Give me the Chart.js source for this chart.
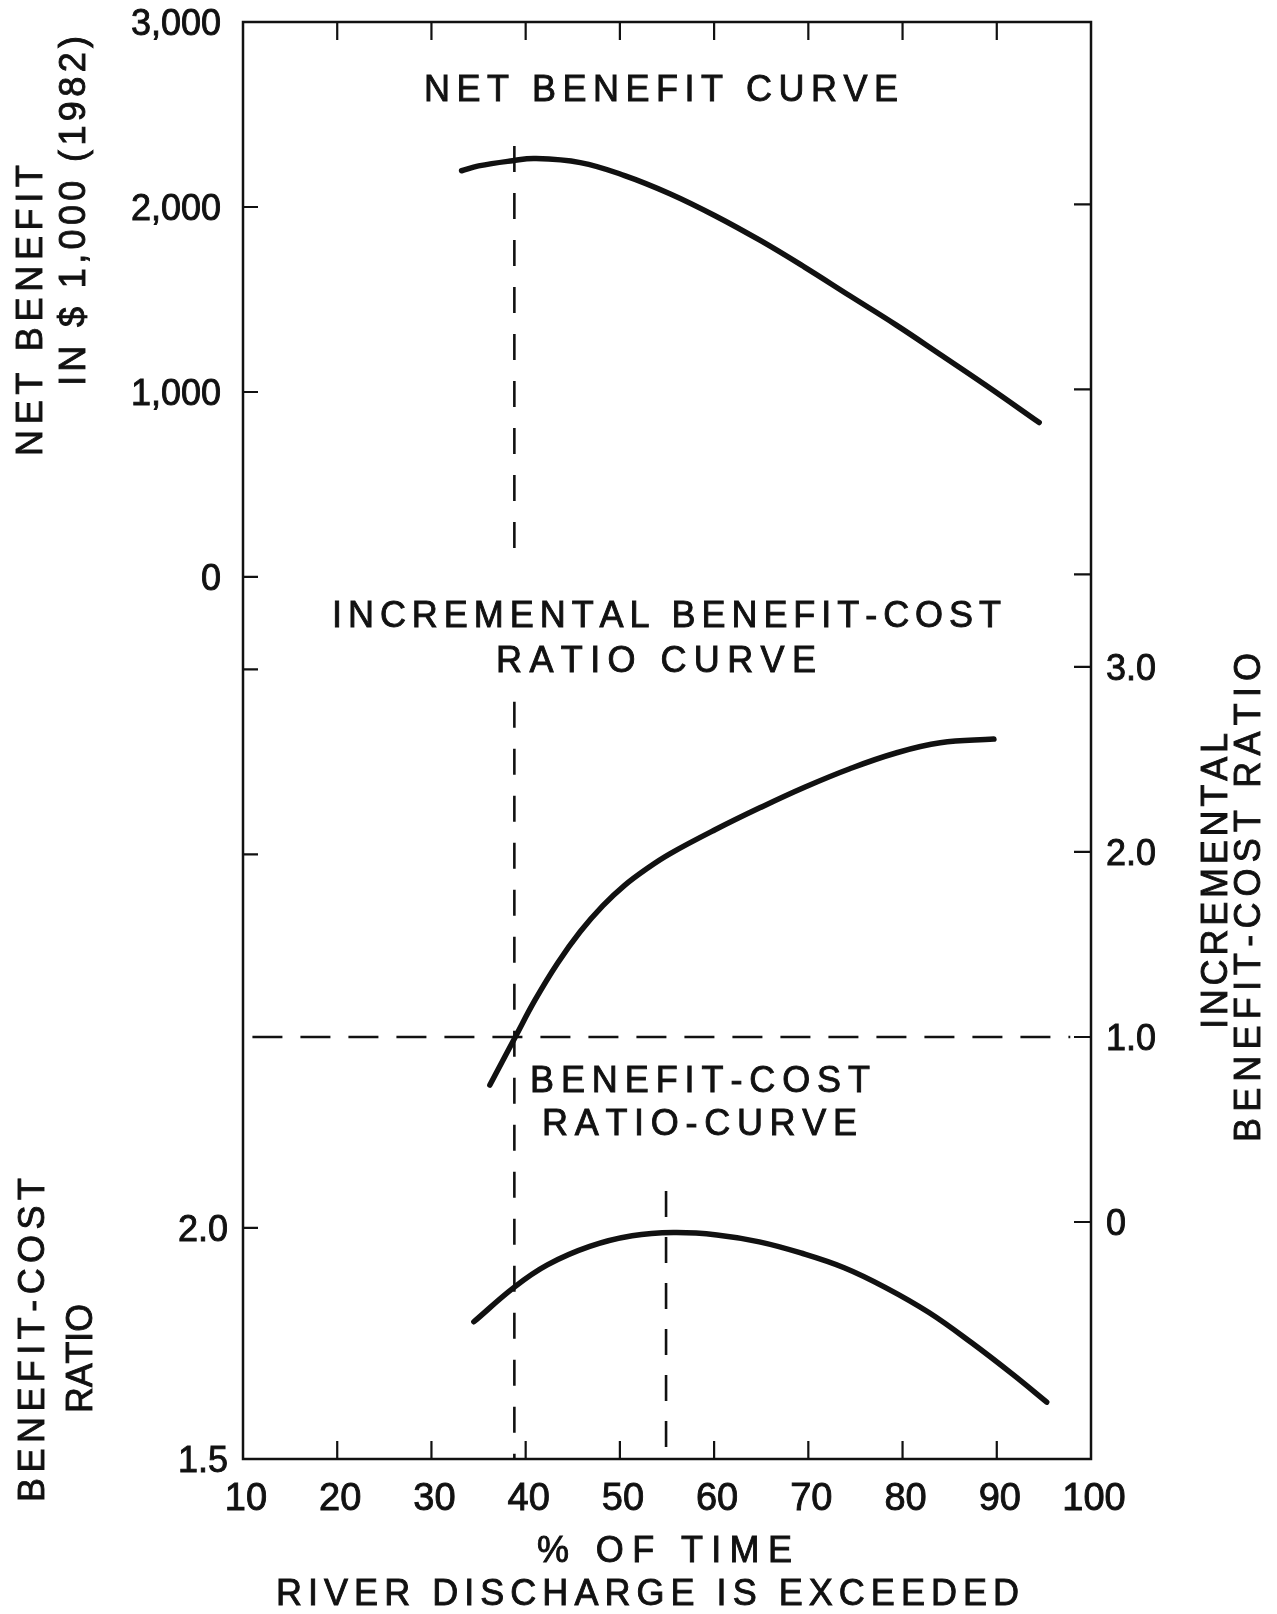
<!DOCTYPE html>
<html>
<head>
<meta charset="utf-8">
<script src="https://cdn.jsdelivr.net/npm/chart.js@4.4.1/dist/chart.umd.min.js"></script>
<style>
  html, body { margin: 0; padding: 0; background: #fff; }
  canvas { display: block; }
</style>
</head>
<body>
<canvas id="myChart" width="1277" height="1614"></canvas>
<script>
// % of time river discharge is exceeded
const xTicks = [10, 20, 30, 40, 50, 60, 70, 80, 90, 100];

// net benefit curve, $1,000 (1982)
const netX = [33.2, 35, 38.6, 41, 45.8, 50.5, 55.3, 60.1, 64.9, 69.6, 74.4, 79.3, 84.0, 88.8, 94.5];
const netY = [2196, 2222, 2250, 2262, 2240, 2170, 2072, 1953, 1819, 1675, 1520, 1363, 1203, 1038, 835];

// incremental benefit-cost ratio curve
const incX = [36.2, 38.9, 41.0, 43.4, 45.8, 48.2, 50.5, 53.0, 55.3, 60.1, 64.9, 69.6, 74.4, 79.3, 84.0, 89.7];
const incY = [0.74, 1.0, 1.20, 1.40, 1.57, 1.71, 1.82, 1.915, 1.99, 2.12, 2.24, 2.35, 2.45, 2.535, 2.59, 2.61];

// benefit-cost ratio curve
const bcX = [34.5, 38.8, 42.3, 46.8, 51.3, 55.7, 60.3, 64.8, 69.2, 73.8, 78.2, 82.8, 87.3, 91.7, 95.3];
const bcY = [1.797, 1.872, 1.920, 1.960, 1.983, 1.99, 1.985, 1.970, 1.946, 1.914, 1.871, 1.817, 1.752, 1.683, 1.623];

// dashed guide lines
const optX = [38.8, 38.8, 38.8, 38.8, 38.8];
const optNet = [2330, 70, null, -675, -4768];
const unityX = [11, 97.8];
const unityY = [1, 1];
const peakX = [54.9, 54.9];
const peakBC = [2.08, 1.52];

// axis ticks
const netTicks = [0, 1000, 2000, 3000];
const netTickLabels = ['0', '1,000', '2,000', '3,000'];
const netMinorTicks = [-500, -1500];
const incTicks = [0, 1, 2, 3];
const incTickLabels = ['0', '1.0', '2.0', '3.0'];
const incMinorTicks = [3.5, 4.5, 5.5];
const bcTicks = [1.5, 2.0];
const bcTickLabels = ['1.5', '2.0'];

const FONT = '"Liberation Sans", Arial, sans-serif';
const INK = '#111';

function pts(xs, ys) {
	return xs.map((x, i) => ({x: x, y: ys[i]}));
}

// draw a string with letter spacing so it fills x0..x1, baseline at 0
function spaced(ctx, str, x0, x1, size) {
	ctx.font = size + 'px ' + FONT;
	let chars = [...str];
	let widths = chars.map(c => ctx.measureText(c).width);
	let natural = widths.reduce((s, w) => s + w, 0);
	let gap = (x1 - x0 - natural) / (chars.length - 1);
	let sx = 1;
	if (gap < 0) { sx = (x1 - x0) / natural; gap = 0; }
	let x = x0;
	chars.forEach((c, i) => {
		ctx.save();
		ctx.translate(x, 0);
		ctx.scale(sx, 1);
		ctx.fillText(c, 0, 0);
		ctx.strokeText(c, 0, 0);
		ctx.restore();
		x += widths[i] * sx + gap;
	});
}

function hText(ctx, str, x0, x1, cy, size) {
	ctx.save();
	ctx.translate(0, cy + size * 0.36);
	spaced(ctx, str, x0, x1, size);
	ctx.restore();
}

function vText(ctx, str, cx, yTop, yBottom, size) {
	ctx.save();
	ctx.translate(cx, (yTop + yBottom) / 2);
	ctx.rotate(-Math.PI / 2);
	ctx.translate(0, size * 0.36);
	let len = yBottom - yTop;
	spaced(ctx, str, -len / 2, len / 2, size);
	ctx.restore();
}

function label(ctx, str, x, y) {
	ctx.fillText(str, x, y);
	ctx.strokeText(str, x, y);
}

const frame = {
	id: 'frame',
	afterDatasetsDraw(chart) {
		const ctx = chart.ctx;
		const a = chart.chartArea;
		const sx = chart.scales.x, sNet = chart.scales.yNet, sInc = chart.scales.yInc, sBC = chart.scales.yBC;
		ctx.save();
		ctx.strokeStyle = INK;
		ctx.fillStyle = INK;
		ctx.lineWidth = 2.5;
		ctx.strokeRect(a.left, a.top, a.right - a.left, a.bottom - a.top);

		ctx.lineWidth = 2.2;
		ctx.beginPath();
		xTicks.slice(1, -1).forEach(v => {
			let px = sx.getPixelForValue(v);
			ctx.moveTo(px, a.top); ctx.lineTo(px, a.top + 18);
			ctx.moveTo(px, a.bottom); ctx.lineTo(px, a.bottom - 18);
		});
		netTicks.concat(netMinorTicks).forEach(v => {
			let py = sNet.getPixelForValue(v);
			if (py > a.top + 2) { ctx.moveTo(a.left, py); ctx.lineTo(a.left + 15, py); }
		});
		bcTicks.forEach(v => {
			let py = sBC.getPixelForValue(v);
			if (py < a.bottom - 2) { ctx.moveTo(a.left, py); ctx.lineTo(a.left + 15, py); }
		});
		incTicks.concat(incMinorTicks).forEach(v => {
			let py = sInc.getPixelForValue(v);
			ctx.moveTo(a.right, py); ctx.lineTo(a.right - 17, py);
		});
		ctx.stroke();

		// tick labels
		ctx.lineWidth = 0.9;
		ctx.font = '36px ' + FONT;
		ctx.textBaseline = 'alphabetic';
		ctx.textAlign = 'right';
		netTicks.forEach((v, i) => {
			label(ctx, netTickLabels[i], a.left - 22, sNet.getPixelForValue(v) + 13);
		});
		bcTicks.forEach((v, i) => {
			label(ctx, bcTickLabels[i], a.left - 15, sBC.getPixelForValue(v) + 13);
		});
		ctx.textAlign = 'left';
		incTicks.forEach((v, i) => {
			label(ctx, incTickLabels[i], a.right + 15, sInc.getPixelForValue(v) + 13);
		});
		ctx.font = '38px ' + FONT;
		ctx.textAlign = 'center';
		xTicks.forEach(v => {
			label(ctx, String(v), sx.getPixelForValue(v) + 3, a.bottom + 51);
		});
		ctx.textAlign = 'left';

		// curve titles
		hText(ctx, 'NET BENEFIT CURVE', 424, 898, 88, 36);
		hText(ctx, 'INCREMENTAL BENEFIT-COST', 332, 1001, 614, 36);
		hText(ctx, 'RATIO CURVE', 496, 816, 659, 36);
		hText(ctx, 'BENEFIT-COST', 530, 870, 1079, 36);
		hText(ctx, 'RATIO-CURVE', 542, 857, 1122, 36);

		// axis titles
		hText(ctx, '% OF TIME', 537, 792, 1549, 36);
		hText(ctx, 'RIVER DISCHARGE IS EXCEEDED', 276, 1019, 1592, 36);
		vText(ctx, 'NET BENEFIT', 29, 165, 456, 36);
		vText(ctx, 'IN $ 1,000 (1982)', 72, 36, 386, 36);
		vText(ctx, 'BENEFIT-COST', 31, 1178, 1502, 36);
		vText(ctx, 'RATIO', 79, 1304, 1413, 36);
		vText(ctx, 'INCREMENTAL', 1214, 733, 1029, 36);
		vText(ctx, 'BENEFIT-COST RATIO', 1247, 653, 1142, 36);
		ctx.restore();
	}
};

const whiteBg = {
	id: 'whiteBg',
	beforeDraw(chart) {
		const ctx = chart.ctx;
		ctx.save();
		ctx.fillStyle = '#fff';
		ctx.fillRect(0, 0, chart.width, chart.height);
		ctx.restore();
	}
};

const curve = {
	borderColor: INK,
	borderWidth: 5.5,
	pointRadius: 0,
	fill: false,
	tension: 0.4,
	borderCapStyle: 'round'
};
const dashed = {
	borderColor: INK,
	borderWidth: 2.6,
	pointRadius: 0,
	fill: false,
	tension: 0,
	spanGaps: false
};

const data = {
	datasets: [
		Object.assign({label: 'Net benefit', data: pts(netX, netY), yAxisID: 'yNet'}, curve),
		Object.assign({label: 'Incremental benefit-cost ratio', data: pts(incX, incY), yAxisID: 'yInc'}, curve),
		Object.assign({label: 'Benefit-cost ratio', data: pts(bcX, bcY), yAxisID: 'yBC'}, curve),
		Object.assign({label: 'opt', data: pts(optX, optNet), yAxisID: 'yNet', borderDash: [26, 21]}, dashed),
		Object.assign({label: 'unity', data: pts(unityX, unityY), yAxisID: 'yInc', borderDash: [30, 18]}, dashed),
		Object.assign({label: 'peak', data: pts(peakX, peakBC), yAxisID: 'yBC', borderDash: [26, 20]}, dashed)
	]
};

const config = {
	type: 'line',
	data: data,
	options: {
		responsive: false,
		animation: false,
		devicePixelRatio: 1,
		layout: { padding: { left: 243, right: 186, top: 22, bottom: 155 } },
		plugins: {
			legend: { display: false },
			tooltip: { enabled: false },
			title: { display: false }
		},
		scales: {
			x: { type: 'linear', min: 10, max: 100, display: false },
			yNet: { type: 'linear', min: -4768, max: 3000, display: false },
			yInc: { type: 'linear', min: -1.281, max: 6.486, display: false },
			yBC: { type: 'linear', min: 1.5, max: 4.61, display: false }
		}
	},
	plugins: [whiteBg, frame]
};

const myChart = new Chart(document.getElementById('myChart'), config);
</script>
</body>
</html>
